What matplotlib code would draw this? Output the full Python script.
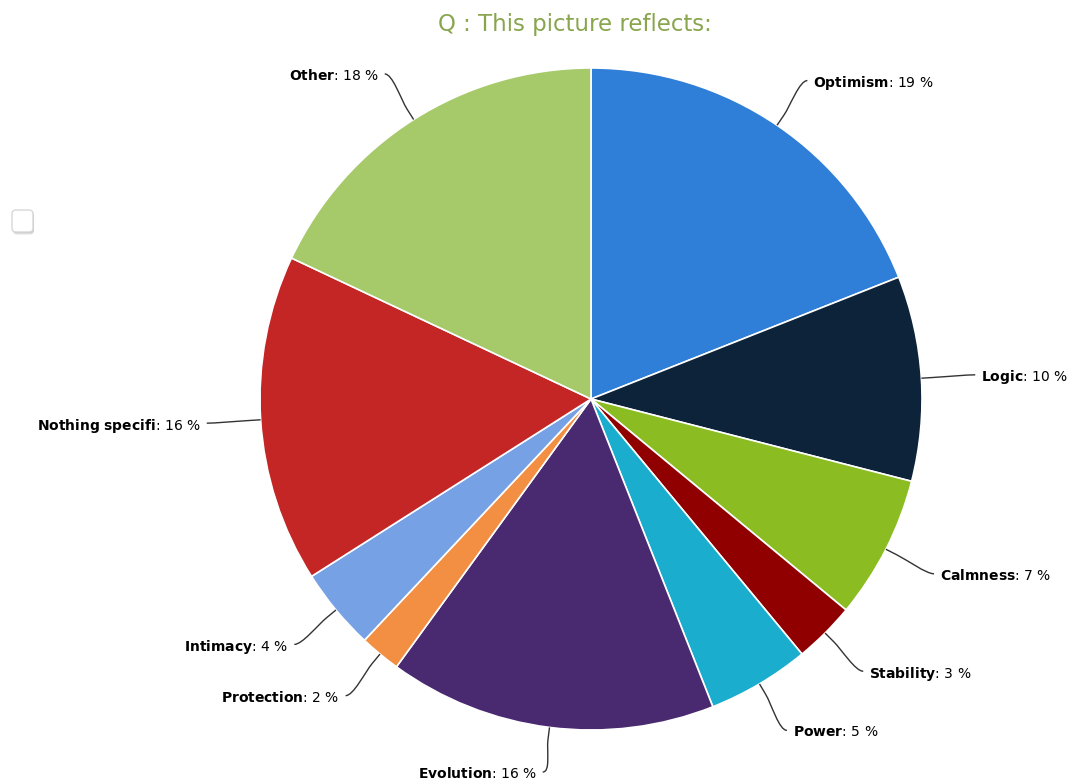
import numpy as np
import matplotlib
matplotlib.use("Agg")
import matplotlib.pyplot as plt
from matplotlib.path import Path
from matplotlib.patches import PathPatch, FancyBboxPatch

# Survey answers and their shares (percent)
categories = ["Optimism", "Logic", "Calmness", "Stability", "Power",
              "Evolution", "Protection", "Intimacy", "Nothing specifi", "Other"]
shares = [19, 10, 7, 3, 5, 16, 2, 4, 16, 18]
colors = ["#2F7ED8", "#0D233A", "#8BBC21", "#910000", "#1AADCE",
          "#492970", "#F28F43", "#77A1E5", "#C42525", "#A6C96A"]
title = "Q : This picture reflects:"

W, H = 1071, 782
fig = plt.figure(figsize=(W / 100, H / 100), dpi=100)
ax = fig.add_axes([0, 0, 1, 1])

cx, cy, r = 591, H - 399, 331
wedges, _ = ax.pie(shares, colors=colors, startangle=90, counterclock=False,
                   center=(cx, cy), radius=r,
                   wedgeprops=dict(edgecolor="white", linewidth=1.2))
ax.set_xlim(0, W)
ax.set_ylim(0, H)
ax.set_aspect("equal")
ax.axis("off")

# Data labels with curved connectors
R = r + 54
off = 12
for w, name, val in zip(wedges, categories, shares):
    mid = np.deg2rad((w.theta1 + w.theta2) / 2)
    c, s = np.cos(mid), np.sin(mid)
    side = 1 if c >= 0 else -1
    y = cy + R * s
    x = cx + side * np.sqrt(max(R ** 2 - (y - cy) ** 2, 0))
    y = max(y, 10)
    p4 = (cx + r * c, cy + r * s)
    p2 = (cx + (r + off) * c, cy + (r + off) * s)
    c2 = (cx + (r + 2 * off) * c, cy + (r + 2 * off) * s)
    verts = [(x, y), (x - side * 8, y), c2, p2, p4]
    codes = [Path.MOVETO, Path.CURVE4, Path.CURVE4, Path.CURVE4, Path.LINETO]
    ax.add_patch(PathPatch(Path(verts, codes), facecolor="none",
                           edgecolor="#333333", lw=1.0))
    label = r"$\mathbf{%s}$: %d %%" % (name.replace(" ", r"\ "), val)
    ax.text(x + side * 6, y, label, ha="left" if side > 0 else "right",
            va="center_baseline", fontsize=10, color="black")

ax.text(575, H - 25, title, ha="center", va="center", fontsize=16.5,
        color="#89A54E")

# Small rounded button at the left
for d, a in [(3, 0.06), (2, 0.08), (1, 0.1)]:
    ax.add_patch(FancyBboxPatch((12 + 1, H - 232 - d), 21, 22,
                                boxstyle="round,pad=0,rounding_size=4",
                                facecolor="black", edgecolor="none", alpha=a))
ax.add_patch(FancyBboxPatch((12, H - 232), 21, 22,
                            boxstyle="round,pad=0,rounding_size=4",
                            facecolor="white", edgecolor="#D8D8D8", lw=1))

fig.savefig("out.png", dpi=100, facecolor="white")
